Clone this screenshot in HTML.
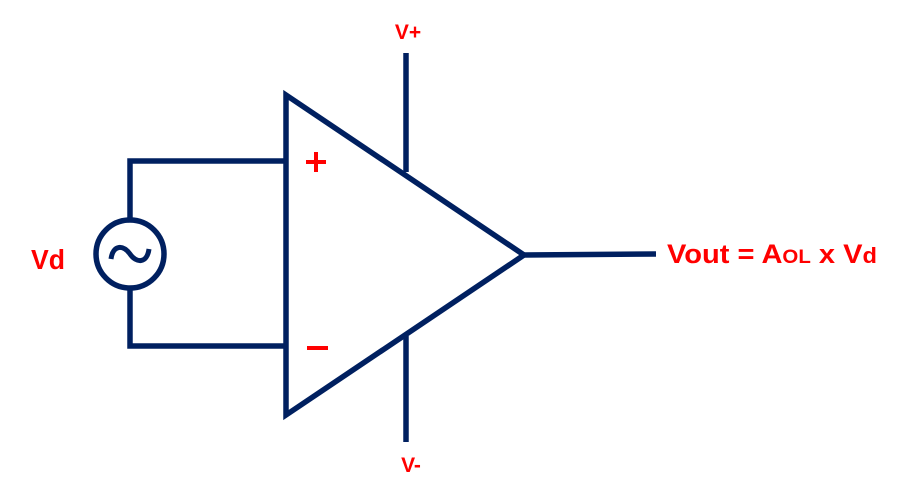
<!DOCTYPE html>
<html><head><style>html,body{margin:0;padding:0;background:#fff;}svg{display:block}</style></head>
<body>
<svg width="899" height="486" viewBox="0 0 899 486" xmlns="http://www.w3.org/2000/svg">
<g fill="none" stroke="#002060" stroke-width="5.5">
<polygon points="286,95 286,415 524,255" stroke-linejoin="miter"/>
<line x1="406" y1="53" x2="406" y2="172"/>
<line x1="406" y1="336" x2="406" y2="442"/>
<line x1="524" y1="255" x2="656" y2="254"/>
<polyline points="130,220 130,161 286,161"/>
<polyline points="130,288 130,346 286,346"/>
<circle cx="130" cy="254" r="34"/>
<path d="M111,259 C113,244 124,245 130,254 C136,263 147,264 149,249" stroke-width="5"/>
</g>
<g fill="#ff0000" font-family="Liberation Sans, sans-serif" font-weight="bold">
<text x="408" y="39" font-size="21" text-anchor="middle">V+</text>
<text x="411" y="472" font-size="21" text-anchor="middle">V-</text>
<rect x="306" y="160" width="20" height="4"/>
<rect x="314" y="152" width="4" height="20"/>
<rect x="307" y="346" width="21" height="4"/>
<text x="31" y="269" font-size="28" textLength="34" lengthAdjust="spacingAndGlyphs">Vd</text>
<text x="667" y="263" font-size="27" textLength="210" lengthAdjust="spacingAndGlyphs">Vout = A<tspan font-size="19">OL</tspan> x V<tspan font-size="22">d</tspan></text>
</g>
</svg>
</body></html>
